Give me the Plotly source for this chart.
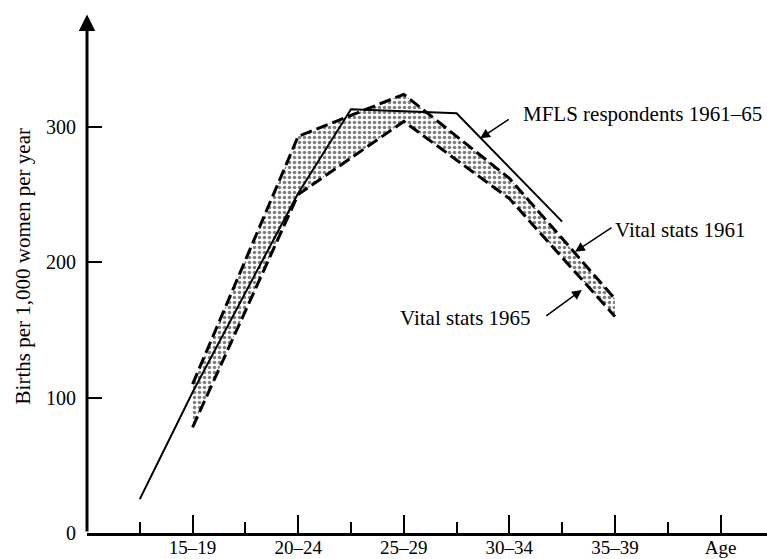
import plotly.graph_objects as go

# ---- data ----
mfls_age = [15, 17.5, 22.5, 25, 30, 35]
mfls_rate = [25, 104, 251, 313, 310, 230]

vs_age = [17.5, 22.5, 27.5, 32.5, 37.5]
vs1961 = [110, 293, 324, 262, 173]
vs1965 = [78, 250, 304, 247, 160]

tick_vals = [17.5, 22.5, 27.5, 32.5, 37.5, 42.5]
tick_text = ["15–19", "20–24", "25–29", "30–34", "35–39", "Age"]
minor_vals = [15, 20, 25, 30, 35, 40]
y_ticks = [0, 100, 200, 300]

FONT = "Liberation Serif"

fig = go.Figure()

fig.add_trace(go.Scatter(
    x=vs_age, y=vs1965, mode="lines", name="Vital stats 1965",
    line=dict(color="black", width=3, dash="12px,5px"),
))
fig.add_trace(go.Scatter(
    x=vs_age, y=vs1961, mode="lines", name="Vital stats 1961",
    line=dict(color="black", width=3, dash="12px,5px"),
    fill="tonexty", fillcolor="rgba(0,0,0,0)",
    fillpattern=dict(shape=".", fgcolor="black", bgcolor="white", size=5, solidity=0.4),
))
fig.add_trace(go.Scatter(
    x=mfls_age, y=mfls_rate, mode="lines", name="MFLS respondents 1961–65",
    line=dict(color="black", width=2),
))

annotations = [
    # y axis line with arrow
    dict(x=12.5, y=383, ax=12.5, ay=0, xref="x", yref="y", axref="x", ayref="y",
         showarrow=True, arrowhead=2, arrowwidth=3, arrowsize=1.1, arrowcolor="black", text=""),
    # y axis title
    dict(text="Births per 1,000 women per year", textangle=-90, xref="paper", yref="paper",
         x=-0.094, y=0.505, xanchor="center", yanchor="middle", showarrow=False,
         font=dict(family=FONT, size=21, color="black")),
    # series labels with arrows
    dict(text="", x=31.12, y=291.5, xref="x", yref="y", ax=30, ay=-20, showarrow=True,
         arrowhead=2, arrowwidth=1.5, arrowsize=1.3, arrowcolor="black"),
    dict(text="MFLS respondents 1961–65", x=33.07, y=309.5, xref="x", yref="y",
         xanchor="left", yanchor="middle", showarrow=False,
         font=dict(family=FONT, size=21, color="black")),
    dict(text="", x=35.61, y=207.8, xref="x", yref="y", ax=38, ay=-25, showarrow=True,
         arrowhead=2, arrowwidth=1.5, arrowsize=1.3, arrowcolor="black"),
    dict(text="Vital stats 1961", x=37.4, y=223.8, xref="x", yref="y",
         xanchor="left", yanchor="middle", showarrow=False,
         font=dict(family=FONT, size=21, color="black")),
    dict(text="", x=35.93, y=179.5, xref="x", yref="y", ax=-37, ay=27, showarrow=True,
         arrowhead=2, arrowwidth=1.5, arrowsize=1.3, arrowcolor="black"),
    dict(text="Vital stats 1965", x=33.62, y=158.8, xref="x", yref="y",
         xanchor="right", yanchor="middle", showarrow=False,
         font=dict(family=FONT, size=21, color="black")),
]

fig.update_layout(
    width=767, height=559,
    margin=dict(l=87, r=0, t=5, b=26),
    plot_bgcolor="white", paper_bgcolor="white",
    showlegend=False,
    font=dict(family=FONT, size=20, color="black"),
    annotations=annotations,
    xaxis=dict(
        range=[12.5, 44.7], showgrid=False, zeroline=False, automargin=False,
        showline=True, linecolor="black", linewidth=3,
        tickmode="array", tickvals=tick_vals, ticktext=tick_text,
        ticks="inside", ticklen=18, tickwidth=1.5, tickcolor="black",
        ticklabelstandoff=-5,
        tickfont=dict(family=FONT, size=19, color="black"),
        minor=dict(tickmode="array", tickvals=minor_vals, ticks="inside",
                   ticklen=11, tickwidth=1.5, tickcolor="black", showgrid=False),
    ),
    yaxis=dict(
        range=[0, 390], showgrid=False, zeroline=False, showline=False, automargin=False,
        tickmode="array", tickvals=y_ticks,
        ticks="inside", ticklen=15, tickwidth=1.5, tickcolor="black",
        ticklabelstandoff=10,
        tickfont=dict(family=FONT, size=20, color="black"),
    ),
)

fig.write_html(
    "out.html",
    config={"displayModeBar": False},
    post_script="document.body.style.margin='0';document.body.style.overflow='hidden';",
)
